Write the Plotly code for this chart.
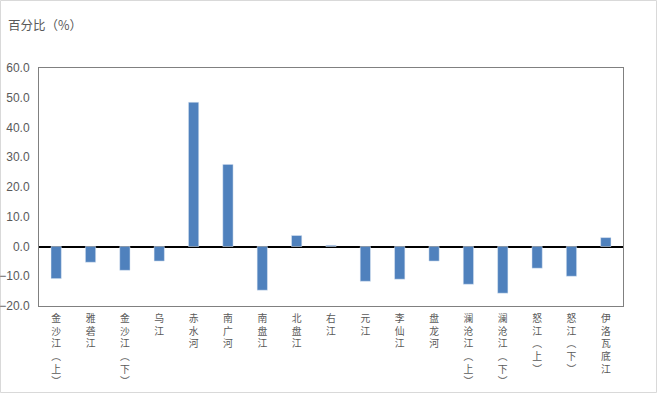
import plotly.graph_objects as go

categories = ["金沙江（上）", "雅砻江", "金沙江（下）", "乌江", "赤水河", "南广河", "南盘江", "北盘江",
              "右江", "元江", "李仙江", "盘龙河", "澜沧江（上）", "澜沧江（下）", "怒江（上）", "怒江（下）", "伊洛瓦底江"]
values = [-10.8, -5.3, -8.0, -4.9, 48.5, 27.6, -14.7, 3.7, 0.4, -11.7, -11.0, -4.9, -12.7, -15.7, -7.3, -10.0, 3.0]
y_ticks = [-20, -10, 0, 10, 20, 30, 40, 50, 60]


def vertical(label):
    label = label.replace("（", "︵").replace("）", "︶")
    return "<br>".join(list(label))


tick_text = [vertical(c) for c in categories]

W, H = 658, 394
ml, mr, mt, mb = 39, 35, 68, 88
pw, ph = W - ml - mr, H - mt - mb

fig = go.Figure(go.Bar(x=categories, y=values, marker_color="#4F81BD", width=0.3))

fig.update_layout(
    width=W, height=H,
    margin=dict(l=ml, r=mr, t=mt, b=mb),
    paper_bgcolor="white", plot_bgcolor="white",
    font=dict(family="Noto Sans CJK SC, sans-serif", color="#595959", size=11),
    showlegend=False,
    bargap=0.7,
)
fig.update_xaxes(
    tickmode="array", tickvals=categories, ticktext=tick_text, tickangle=0,
    showline=True, mirror=True, linecolor="#808080", linewidth=1,
    showgrid=False, ticks="", ticklabelstandoff=3, automargin=False,
    tickfont=dict(size=9.8, color="#595959"),
)
fig.update_yaxes(
    range=[-20, 60], tickvals=y_ticks, tickformat=".1f",
    showline=True, mirror=True, linecolor="#808080", linewidth=1,
    showgrid=False, zeroline=True, zerolinecolor="black", zerolinewidth=1.5,
    ticks="", ticklabelstandoff=6, automargin=False,
    tickfont=dict(family="Liberation Sans, Arial, sans-serif", size=12, color="#595959"),
)
fig.add_annotation(
    text="百分比（%）", xref="paper", yref="paper",
    x=-(ml - 6) / pw, y=1 + (mt - 24) / ph, xanchor="left", yanchor="middle",
    showarrow=False, font=dict(size=12.5, color="#595959"),
)
fig.add_shape(
    type="rect", xref="paper", yref="paper",
    x0=-(ml - 0.5) / pw, x1=1 + (mr - 1.5) / pw, y0=-(mb - 1.5) / ph, y1=1 + (mt - 0.5) / ph,
    line=dict(color="#D9D9D9", width=1), layer="below",
)

fig.write_html("out.html", config={"displayModeBar": False},
               post_script="document.body.style.margin='0';")
